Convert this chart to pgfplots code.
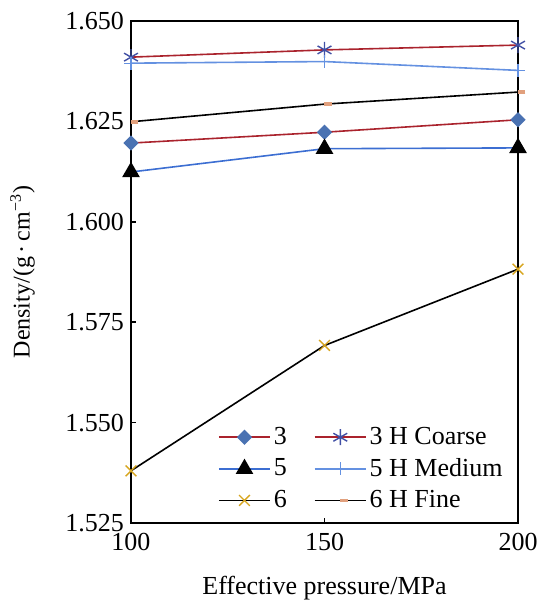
\documentclass[border=0pt]{standalone}
\usepackage{fontspec}
\setmainfont{Liberation Serif}
\usepackage{pgfplots}
\usetikzlibrary{calc}
\pgfplotsset{compat=1.18}
\definecolor{dred}{RGB}{170,35,45}
\definecolor{dmblue}{RGB}{74,114,178}
\definecolor{stblue}{RGB}{65,80,165}
\definecolor{lblue}{RGB}{60,110,210}
\definecolor{llblue}{RGB}{100,145,225}
\definecolor{gold}{RGB}{215,165,30}
\definecolor{salmon}{RGB}{225,160,125}
\newcommand{\fs}{\fontsize{13}{15.6}\selectfont}
\newcommand{\fy}{\fontsize{12}{14.4}\selectfont}
\begin{document}
\begin{tikzpicture}
\begin{axis}[
  scale only axis, width=193.5pt, height=251pt,
  xmin=100, xmax=200, ymin=1.525, ymax=1.650,
  xtick={100,150,200},
  ytick={1.525,1.550,1.575,1.600,1.625,1.650},
  tick align=inside, tick pos=left, major tick length=2.5pt,
  tick style={black, line width=0.8pt},
  axis line style={line width=1.3pt},
  clip=false,
  tick label style={font=\fs},
  xlabel style={font=\fs},
  ylabel style={font=\fy},
  /pgf/number format/assume math mode=true,
  yticklabel style={/pgf/number format/.cd, fixed, fixed zerofill, precision=3, assume math mode=true},
  xticklabel style={yshift=-1.5pt, /pgf/number format/.cd, assume math mode=true},
  xlabel={Effective pressure/MPa},
  ylabel={Density/(g\,·\,cm\textsuperscript{\char"2212 3})},
  xlabel shift=6pt, ylabel shift=8.5pt,
  legend columns=2,
  legend cell align=left,
  legend style={draw=none, fill=none, font=\fs, at={(rel axis cs:1,0)}, anchor=south east, xshift=-3pt, yshift=2.5pt,
    row sep=2.5pt, nodes={inner sep=1.5pt},
    /tikz/every even column/.append style={column sep=12pt}},
  legend image code/.code={\draw[mark repeat=2,mark phase=2] plot coordinates {(0cm,0cm)(0.45cm,0cm)(0.9cm,0cm)};},
]
\addplot[dred, line width=0.8pt, mark=square*, mark size=2.3pt, mark options={rotate=45, fill=dmblue, draw=dmblue}]
  coordinates {(100,1.6196)(150,1.6223)(200,1.6254)};
\addlegendentry{3}
\addplot[dred, line width=0.8pt, mark=asterisk, mark size=4pt, mark options={draw=stblue, line width=0.7pt}]
  coordinates {(100,1.6410)(150,1.6428)(200,1.6440)};
\addlegendentry{3 H Coarse}
\addplot[lblue, line width=0.8pt, mark=triangle*, mark size=4.3pt, mark options={fill=black, draw=black}]
  coordinates {(100,1.6124)(150,1.6182)(200,1.6184)};
\addlegendentry{5}
\addplot[llblue, line width=0.8pt, mark=+, mark size=3.3pt, mark options={draw=llblue, line width=0.6pt}]
  coordinates {(100,1.6395)(150,1.6399)(200,1.6377)};
\addlegendentry{5 H Medium}
\addplot[black, line width=0.8pt, mark=x, mark size=3.8pt, mark options={draw=gold, line width=0.7pt}]
  coordinates {(100,1.5380)(150,1.5692)(200,1.5882)};
\addlegendentry{6}
\addplot[black, line width=0.8pt, mark=-, mark size=1.9pt, mark options={draw=salmon, line width=1.8pt, xshift=1.75pt}]
  coordinates {(100,1.6249)(150,1.6293)(200,1.6323)};
\addlegendentry{6 H Fine}
\end{axis}
\pgfresetboundingbox
\path ($(current axis.south west)+(-65.5pt,-40.5pt)$) rectangle ($(current axis.north east)+(10pt,10.5pt)$);
\end{tikzpicture}
\end{document}
